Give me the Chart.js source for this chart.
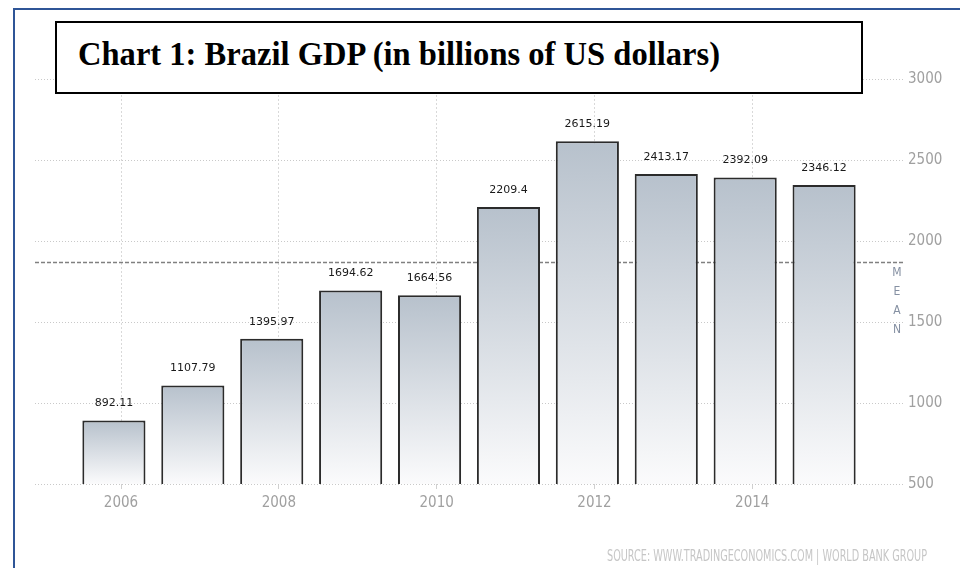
<!DOCTYPE html>
<html lang="en">
<head>
<meta charset="utf-8">
<title>Chart 1: Brazil GDP</title>
<script src="https://cdn.jsdelivr.net/npm/chart.js@4.4.1/dist/chart.umd.min.js"></script>
<style>
  html, body { margin: 0; padding: 0; background: #fff; }
  #wrap { position: relative; width: 960px; height: 568px; overflow: hidden; }
  #gdpchart { position: absolute; left: 0; top: 0; }
  #frame {
    position: absolute; left: 13px; top: 8px; width: 960px; height: 600px;
    border-top: 2px solid #2f5597; border-left: 2px solid #2f5597;
  }
  #titlebox {
    position: absolute; left: 55px; top: 21px; width: 804px; height: 69px;
    border: 2px solid #000; background: #fff;
  }
  #titletext {
    position: absolute; left: 78px; top: 35px; line-height: 34px;
    font: bold 34px "Liberation Serif", "Times New Roman", serif; color: #000;
    white-space: nowrap; transform-origin: 0 0;
  }
  #source {
    position: absolute; left: 607px; top: 547px; line-height: 15px;
    font: 15px "Liberation Sans Narrow", "DejaVu Sans Condensed", sans-serif; color: #c6c6c6;
    white-space: nowrap; transform-origin: 0 0;
  }
</style>
</head>
<body>
<div id="wrap">
  <canvas id="gdpchart" width="960" height="568"></canvas>
  <div id="frame"></div>
  <div id="titlebox"></div>
  <span id="titletext">Chart 1: Brazil GDP (in billions of US dollars)</span>
  <span id="source">SOURCE: WWW.TRADINGECONOMICS.COM | WORLD BANK GROUP</span>
</div>
<script>
"use strict";

// GDP per year, billions of US dollars
const years = [2006, 2007, 2008, 2009, 2010, 2011, 2012, 2013, 2014, 2015];
const gdpValues = [892.11, 1107.79, 1395.97, 1694.62, 1664.56, 2209.4, 2615.19, 2413.17, 2392.09, 2346.12];

// axis ticks
const xTickYears = [2006, 2008, 2010, 2012, 2014];
const xTickLabels = ["2006", "2008", "2010", "2012", "2014"];
const yTickValues = [500, 1000, 1500, 2000, 2500, 3000];

const axisFont = "'Liberation Sans Narrow', 'DejaVu Sans Condensed', sans-serif";

document.addEventListener("DOMContentLoaded", createBarChart);

/**
 * Vertical gradient for one bar, from its top down to the axis base.
 *
 * @param {object} context - Chart.js scriptable context
 * @returns {CanvasGradient|string}
 */
function barGradient(context) {
  const chart = context.chart;
  const yScale = chart.scales.y;
  if (!yScale || context.type !== "data" || !context.parsed) {
    return "#cfd6de";
  }
  const top = yScale.getPixelForValue(context.parsed.y);
  const bottom = yScale.getPixelForValue(yScale.min);
  if (!isFinite(top) || !isFinite(bottom) || top === bottom) {
    return "#cfd6de";
  }
  const gradient = chart.ctx.createLinearGradient(0, top, 0, bottom);
  gradient.addColorStop(0, "#b7c1cc");
  gradient.addColorStop(1, "#fbfbfc");
  return gradient;
}

/**
 * Dashed mean line with the vertical MEAN label, under the bars.
 */
const meanLine = {
  id: "meanLine",
  beforeDatasetsDraw(chart) {
    const mean = gdpValues.reduce((a, b) => a + b, 0) / gdpValues.length;
    const y = chart.scales.y.getPixelForValue(mean);
    const area = chart.chartArea;
    const ctx = chart.ctx;
    ctx.save();
    ctx.strokeStyle = "#808080";
    ctx.lineWidth = 1.5;
    ctx.setLineDash([4, 2]);
    ctx.beginPath();
    ctx.moveTo(area.left, Math.round(y) + 0.5);
    ctx.lineTo(area.right, Math.round(y) + 0.5);
    ctx.stroke();
    ctx.setLineDash([]);
    ctx.font = "12px " + axisFont;
    ctx.fillStyle = "#8590a2";
    ctx.textAlign = "center";
    ctx.textBaseline = "middle";
    "MEAN".split("").forEach((letter, i) => {
      ctx.fillText(letter, area.right - 6, y + 11 + i * 19);
    });
    ctx.restore();
  },
};

/**
 * Value labels above every bar.
 */
const valueLabels = {
  id: "valueLabels",
  afterDatasetsDraw(chart) {
    const ctx = chart.ctx;
    const meta = chart.getDatasetMeta(0);
    ctx.save();
    ctx.font = "11px 'DejaVu Sans', sans-serif";
    ctx.fillStyle = "#1a1a1a";
    ctx.textAlign = "center";
    ctx.textBaseline = "middle";
    meta.data.forEach((bar, i) => {
      ctx.fillText(String(gdpValues[i]), bar.x, bar.y - 17);
    });
    ctx.restore();
  },
};

/**
 * Squeezes an html text line to the given width.
 *
 * @param {string} id - element id
 * @param {number} width - wanted width in pixels
 */
function fitText(id, width) {
  const el = document.getElementById(id);
  const w = el.getBoundingClientRect().width;
  el.style.transform = "scaleX(" + (width / w) + ")";
}

/**
 * Builds the bar chart.
 *
 * @returns {void}
 */
function createBarChart() {
  fitText("titletext", 642);
  fitText("source", 320);

  const canvas = document.querySelector("#gdpchart");
  const points = years.map((year, i) => ({ x: year, y: gdpValues[i] }));

  new Chart(canvas, {
    type: "bar",
    data: {
      datasets: [
        {
          label: "GDP",
          data: points,
          backgroundColor: barGradient,
          borderColor: "#2b2b2b",
          borderWidth: 2,
          borderSkipped: false,
          barPercentage: 0.8,
          categoryPercentage: 1,
        },
      ],
    },
    options: {
      responsive: false,
      animation: false,
      devicePixelRatio: 1,
      layout: { padding: { left: 35, top: 79, right: 0, bottom: 44 } },
      plugins: {
        legend: { display: false },
        tooltip: { enabled: false },
      },
      scales: {
        x: {
          type: "linear",
          min: 2005,
          max: 2016,
          offset: false,
          afterBuildTicks: (scale) => {
            scale.ticks = xTickYears.map((v) => ({ value: v + 0.09 }));
          },
          afterFit: (scale) => {
            scale.height = 40;
          },
          grid: { offset: false, color: "#d9d9d9", tickColor: "#d0d0d0", tickLength: 5 },
          border: { display: false, dash: [2, 2] },
          ticks: {
            callback: (value, index) => xTickLabels[index],
            color: "#a0a0a0",
            font: { family: axisFont, size: 15 },
            padding: 5,
            maxRotation: 0,
            autoSkip: false,
          },
        },
        y: {
          position: "right",
          min: 500,
          max: 3000,
          afterBuildTicks: (scale) => {
            scale.ticks = yTickValues.map((v) => ({ value: v }));
          },
          afterFit: (scale) => {
            scale.width = 57;
          },
          grid: { color: "#c9c9c9", drawTicks: false },
          border: { display: false, dash: [1, 2] },
          ticks: {
            callback: (value) => String(value),
            color: "#a0a0a0",
            font: { family: axisFont, size: 15 },
            padding: 5,
          },
        },
      },
    },
    plugins: [meanLine, valueLabels],
  });
}
</script>
</body>
</html>
